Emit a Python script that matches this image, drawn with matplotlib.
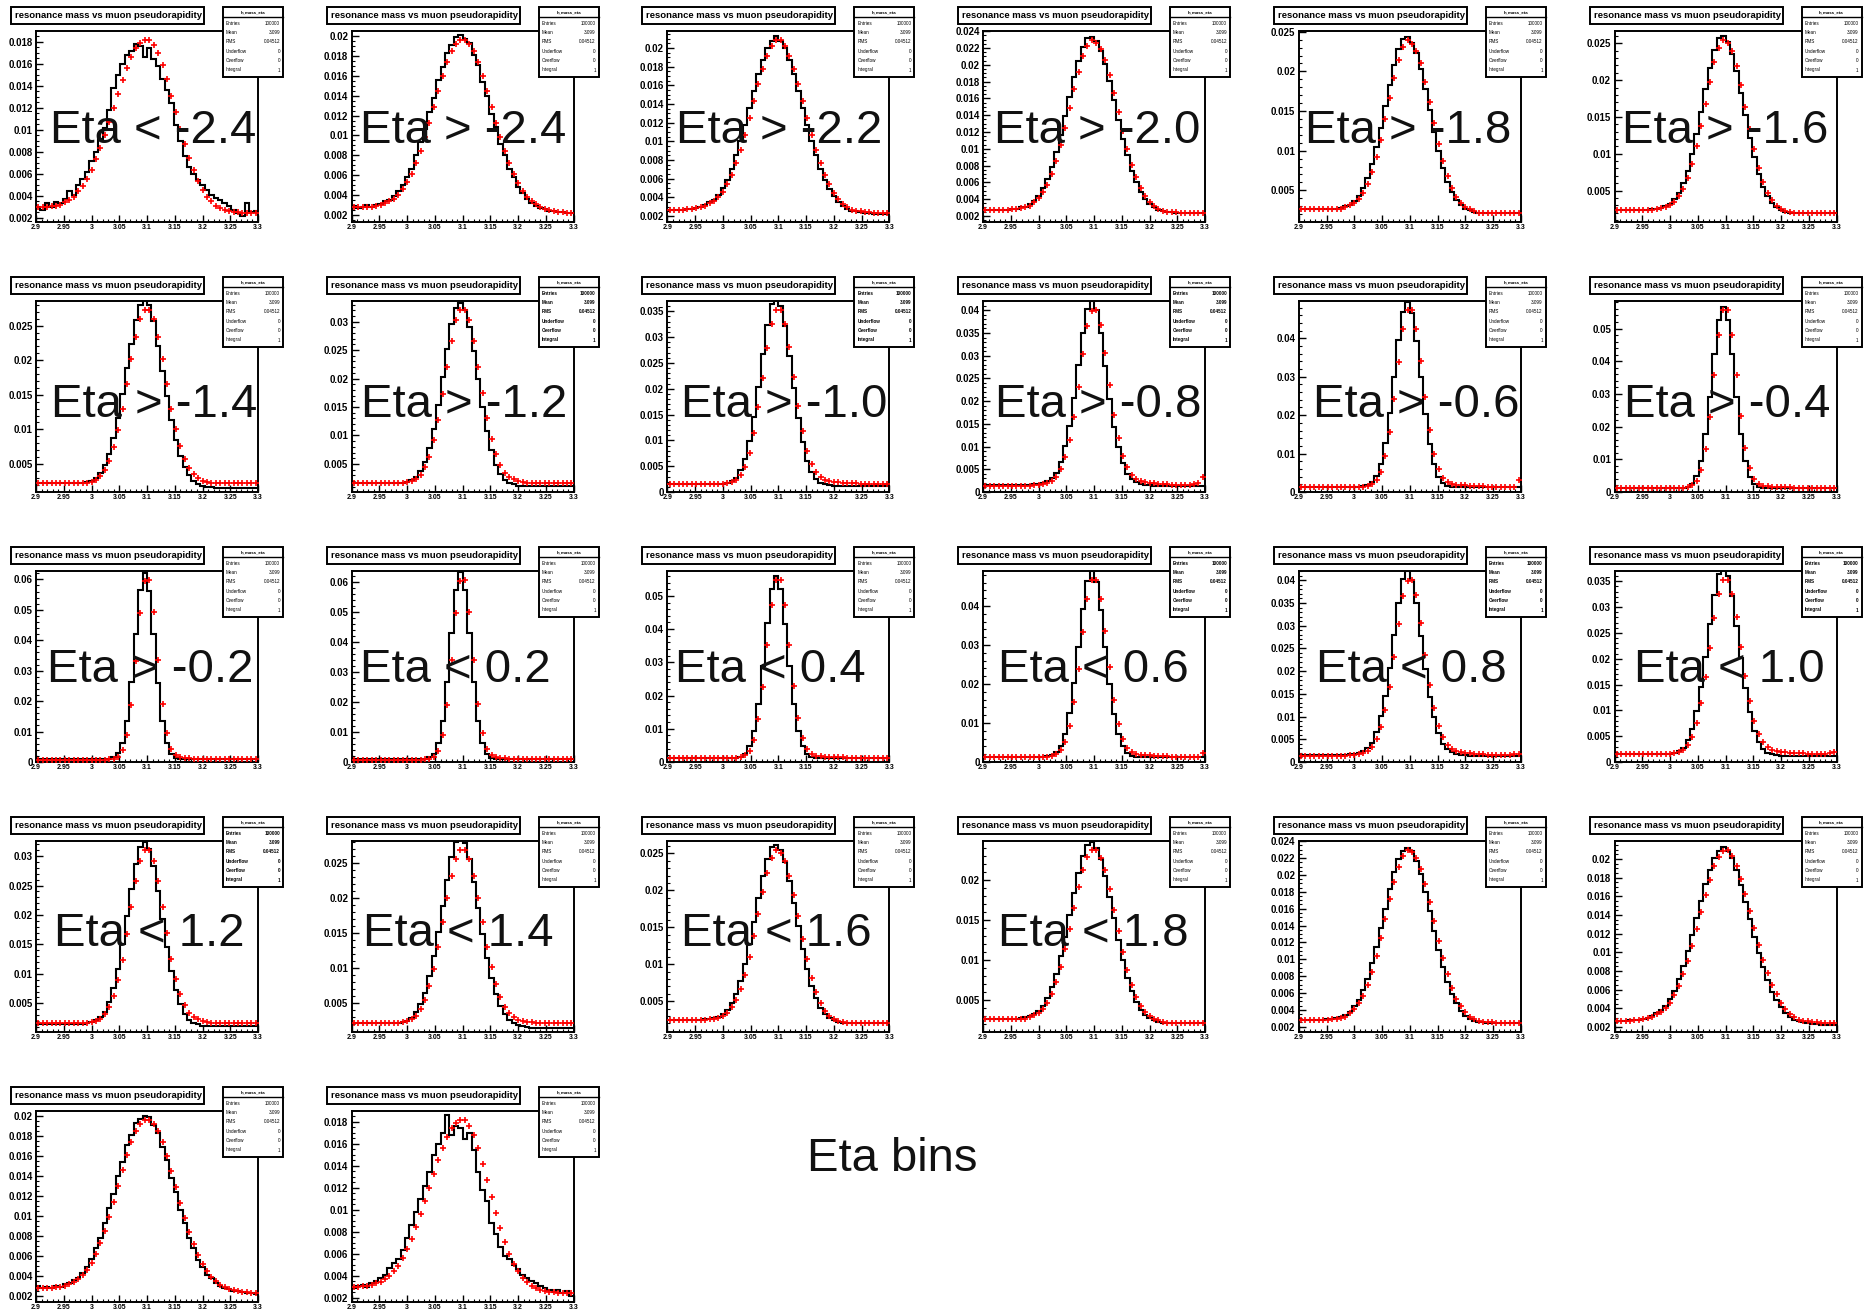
import numpy as np
import matplotlib
matplotlib.use('Agg')
import matplotlib.pyplot as plt
from matplotlib.patches import Rectangle
from matplotlib.lines import Line2D
from matplotlib.ticker import MultipleLocator, AutoMinorLocator, FuncFormatter

plt.rcParams['font.family'] = ['Liberation Sans', 'DejaVu Sans']
plt.rcParams['font.weight'] = 'bold'

# mass window of every histogram (GeV)
mass_lo = 2.9
mass_hi = 3.3
unit = 1e-4   # bin contents below are in units of 1e-4

title_text = 'resonance mass vs muon pseudorapidity'
eta_labels = ['Eta < -2.4', 'Eta > -2.4', 'Eta > -2.2', 'Eta > -2.0', 'Eta > -1.8', 'Eta > -1.6',
              'Eta > -1.4', 'Eta > -1.2', 'Eta > -1.0', 'Eta > -0.8', 'Eta > -0.6', 'Eta > -0.4',
              'Eta > -0.2', 'Eta < 0.2', 'Eta < 0.4', 'Eta < 0.6', 'Eta < 0.8', 'Eta < 1.0',
              'Eta < 1.2', 'Eta < 1.4', 'Eta < 1.6', 'Eta < 1.8', '', '',
              '', '']
stat_names = ['Entries', 'Mean', 'RMS', 'Underflow', 'Overflow', 'Integral']
stat_values = ['100000', '3.099', '0.04512', '0', '0', '1']

# black histograms (data) and red crosses (reference), 50 bins each
black_01 = [30,27,33,30,34,33,37,44,41,50,55,62,72,80,92,102,118,138,150,160,168,172,178,176,166,174,164,158,146,136,124,104,90,76,66,60,54,50,45,41,38,36,33,31,27,24,22,33,25,26]
red_01 = [30,30,30,31,31,32,34,36,39,44,49,55,63,73,83,95,107,120,133,145,156,166,174,179,182,182,177,170,159,146,131,116,101,87,74,63,53,45,39,35,31,29,27,26,25,25,24,24,24,24]
black_02 = [29,27,28,30,28,30,31,34,35,39,44,50,58,66,80,93,106,124,138,156,169,183,191,199,201,197,193,181,171,154,140,122,108,91,80,66,58,48,42,36,32,29,27,26,24,24,23,23,22,22]
red_02 = [28,28,28,28,28,29,30,32,34,36,40,46,53,61,72,84,98,113,129,145,160,174,185,192,196,196,192,185,174,160,145,129,113,98,84,72,61,52,44,38,34,31,28,26,25,24,23,23,22,22]
black_03 = [27,27,27,27,28,28,29,30,32,35,37,43,50,59,71,85,100,118,136,154,172,187,200,208,213,208,200,187,172,154,136,118,100,85,71,59,49,42,35,31,28,26,25,24,23,23,22,22,22,22]
red_03 = [27,27,27,27,28,28,29,30,31,34,36,40,46,54,64,77,91,107,125,143,161,178,192,202,209,209,202,192,178,161,143,125,107,91,77,64,54,45,38,33,30,27,26,25,24,24,23,23,23,23]
black_04 = [27,27,27,27,27,27,28,28,30,31,34,38,44,53,64,78,96,116,139,162,185,205,221,232,233,228,217,201,181,158,134,112,92,74,60,49,40,34,30,27,26,24,24,23,23,23,23,23,23,23]
red_04 = [27,27,27,27,27,27,28,28,29,30,32,36,41,48,57,70,85,104,125,148,171,192,210,223,230,226,219,206,188,167,144,121,100,81,66,53,44,37,32,28,26,25,24,24,23,23,23,23,23,23]
black_05 = [26,26,26,26,26,26,26,26,27,28,30,32,37,43,53,66,83,105,129,156,183,208,228,241,244,236,223,203,178,151,124,100,78,61,48,38,32,27,25,23,22,21,21,21,21,21,21,21,21,21]
red_05 = [26,26,26,26,26,26,26,26,27,27,29,31,34,39,47,58,73,92,114,140,166,192,215,231,240,235,226,210,187,161,135,109,87,68,53,42,34,29,26,24,22,22,21,21,21,21,21,21,21,21]
black_06 = [24,24,24,24,24,24,24,24,25,25,26,29,32,38,47,60,77,100,127,157,188,217,241,257,260,252,236,212,183,152,122,95,72,55,42,33,27,24,21,20,20,19,19,19,19,19,19,19,19,19]
red_06 = [24,24,24,24,24,24,24,24,24,25,26,27,30,34,42,52,67,86,110,138,168,198,224,244,255,250,239,219,193,164,133,106,81,62,47,37,29,25,22,21,20,19,19,19,19,19,19,19,19,19]
black_07 = [22,22,22,22,22,22,22,22,22,22,23,24,26,30,37,48,65,88,117,151,188,224,258,280,288,280,257,221,185,148,114,85,62,45,34,26,21,18,17,16,15,15,15,15,15,15,15,15,15,15]
red_07 = [22,22,22,22,22,22,22,22,22,22,22,23,24,27,32,41,54,74,99,130,166,202,234,260,273,272,259,233,201,165,129,100,76,57,44,35,30,26,24,23,23,23,23,23,23,23,23,23,23,23]
black_08 = [17,17,17,17,17,17,17,17,17,17,17,17,19,22,27,37,53,78,112,154,203,252,295,324,333,320,291,248,199,150,108,74,49,32,22,17,14,12,11,11,11,11,11,11,11,11,11,11,11,11]
red_08 = [16,16,16,16,16,16,16,16,16,16,16,17,18,20,24,31,44,63,92,128,173,221,266,302,321,321,302,266,221,174,130,94,67,48,35,27,23,20,19,17,17,16,16,16,16,16,16,16,16,16]
black_09 = [15,15,15,15,15,15,15,15,15,15,15,15,16,18,21,28,42,64,99,146,204,267,324,364,377,361,321,264,201,143,96,61,39,25,18,15,13,12,12,12,12,12,12,12,12,12,12,12,12,12]
red_09 = [15,15,15,15,15,15,15,15,15,15,15,15,16,17,19,24,33,49,76,114,164,221,278,325,352,353,326,280,223,167,118,80,55,39,30,24,22,20,19,18,18,17,17,16,16,16,16,16,16,16]
black_10 = [15,15,15,15,15,15,15,15,15,15,16,17,18,20,24,30,42,65,101,145,207,280,351,402,420,400,349,278,205,143,99,63,40,28,22,18,16,15,14,13,13,13,13,13,13,13,13,13,13,13]
red_10 = [14,14,14,14,14,14,14,14,14,14,14,15,16,18,20,25,34,50,77,115,166,232,304,365,399,401,367,306,236,170,118,80,54,38,29,24,21,20,19,18,17,17,16,16,16,16,16,17,20,34]
black_11 = [14,14,14,14,14,14,14,14,14,14,14,14,14,14,15,18,26,42,74,127,205,300,396,469,495,467,394,298,203,125,72,40,24,16,13,12,12,12,12,12,12,12,12,12,12,12,12,12,12,12]
red_11 = [13,13,13,13,13,13,13,13,13,13,13,13,13,13,14,16,20,31,53,94,157,243,338,423,473,474,424,340,246,161,99,59,37,26,20,19,17,17,16,16,15,15,14,14,14,14,14,14,14,30]
black_12 = [12,12,12,12,12,12,12,12,12,12,12,12,12,12,12,13,16,25,48,95,177,292,422,527,567,526,421,291,176,94,47,24,15,12,11,11,11,11,11,11,11,11,11,11,11,11,11,11,11,11]
red_12 = [12,12,12,12,12,12,12,12,12,12,12,12,12,12,12,13,14,20,34,68,131,230,357,480,556,557,481,359,233,135,72,39,25,19,17,16,15,15,14,14,13,13,13,13,13,13,13,13,13,13]
black_13 = [10,10,10,10,10,10,10,10,10,10,10,10,10,10,10,10,11,15,28,62,136,262,422,564,622,563,421,261,135,61,27,14,10,9,9,9,9,9,9,9,9,9,9,9,9,9,9,9,9,9]
red_13 = [8,8,8,8,8,8,8,8,8,8,8,8,8,8,8,8,9,10,17,38,89,187,333,490,596,598,492,336,191,94,43,22,15,12,12,11,11,10,10,10,10,10,10,10,10,10,10,10,10,10]
black_14 = [10,10,10,10,10,10,10,10,10,10,10,10,10,10,10,10,11,15,28,63,138,266,429,573,632,572,428,265,137,62,27,14,10,9,9,9,9,9,9,9,9,9,9,9,9,9,9,9,9,9]
red_14 = [8,8,8,8,8,8,8,8,8,8,8,8,8,8,8,8,9,10,17,38,90,190,338,497,604,606,499,341,194,95,43,22,15,12,12,11,11,10,10,10,10,10,10,10,10,10,10,10,10,10]
black_15 = [12,12,12,12,12,12,12,12,12,12,12,12,12,12,12,13,16,25,48,94,175,289,417,521,561,520,416,288,174,93,47,24,15,12,11,11,11,11,11,11,11,11,11,11,11,11,11,11,11,11]
red_15 = [12,12,12,12,12,12,12,12,12,12,12,12,12,12,12,13,14,20,34,67,129,226,351,472,547,548,473,353,229,133,71,39,25,19,17,16,15,15,14,14,13,13,13,13,13,13,13,13,13,13]
black_16 = [14,14,14,14,14,14,14,14,14,14,14,14,14,14,15,18,26,42,73,125,202,296,391,463,490,462,390,295,201,124,71,40,24,16,13,12,12,12,12,12,12,12,12,12,12,12,12,12,12,12]
red_16 = [13,13,13,13,13,13,13,13,13,13,13,13,13,13,14,16,20,30,52,92,154,239,333,417,466,467,418,336,243,159,98,58,36,26,20,19,17,17,16,16,15,15,14,14,14,14,14,14,14,24]
black_17 = [15,15,15,15,15,15,15,15,15,15,16,17,18,20,24,30,42,65,101,145,207,280,351,402,420,400,349,278,205,143,99,63,40,28,22,18,16,15,14,13,13,13,13,13,13,13,13,13,13,13]
red_17 = [14,14,14,14,14,14,14,14,14,14,14,15,16,18,20,25,34,50,77,115,166,232,304,365,399,401,367,306,236,170,118,80,54,38,29,24,21,20,19,18,17,17,16,16,16,16,16,16,17,18]
black_18 = [15,15,15,15,15,15,15,15,15,15,15,15,16,18,21,28,42,64,99,146,204,267,324,364,375,361,321,264,201,143,96,61,39,25,18,15,13,12,12,12,12,12,12,12,12,12,12,12,12,12]
red_18 = [15,15,15,15,15,15,15,15,15,15,15,15,16,17,19,24,33,49,76,114,164,221,278,325,352,353,326,280,223,167,118,80,55,39,30,24,22,20,19,18,18,17,17,16,16,16,16,16,17,19]
black_19 = [15,15,15,15,15,15,15,15,15,15,15,16,18,21,26,36,52,76,109,150,198,245,287,315,324,312,283,241,194,146,105,72,48,31,22,17,14,12,11,11,11,11,11,11,11,11,11,11,11,11]
red_19 = [16,16,16,16,16,16,16,16,16,16,16,17,18,20,24,31,43,62,89,124,168,214,258,292,311,311,292,258,214,169,126,91,65,47,34,27,23,20,19,17,17,16,16,16,16,16,16,16,16,16]
black_20 = [21,21,21,21,21,21,21,21,21,21,22,23,25,29,37,48,65,88,117,151,188,225,258,280,287,279,256,223,186,149,115,86,63,46,34,26,21,18,17,16,15,15,15,15,15,15,15,15,15,15]
red_20 = [21,21,21,21,21,21,21,21,21,21,22,23,24,27,32,41,54,74,99,130,165,200,231,256,269,268,256,231,200,165,130,101,77,58,45,36,30,26,24,23,23,22,22,22,22,22,22,22,22,22]
black_21 = [25,25,25,25,25,25,25,25,26,26,27,29,32,38,47,60,77,100,127,157,189,219,243,259,262,255,238,213,183,152,121,94,71,54,41,32,27,24,22,21,20,20,20,20,20,20,20,20,20,20]
red_21 = [25,25,25,25,25,25,25,25,25,26,26,27,30,34,42,52,67,86,110,138,168,198,224,244,255,251,240,220,194,165,134,107,82,62,47,37,30,26,23,22,21,20,20,20,20,20,20,20,20,20]
black_22 = [27,27,27,27,27,27,27,27,28,29,30,33,37,43,53,66,83,105,129,156,184,209,230,244,248,240,226,205,179,152,125,100,78,61,48,38,32,28,25,23,22,21,21,21,21,21,21,21,21,21]
red_22 = [26,26,26,26,26,26,26,26,27,27,29,31,34,39,47,58,73,92,114,139,165,191,213,229,238,237,228,212,189,163,136,110,88,69,54,43,35,30,27,25,23,22,21,21,21,21,21,21,21,21]
black_23 = [28,28,28,28,28,28,29,29,30,32,34,38,44,52,63,77,95,115,137,160,183,203,219,229,232,228,217,201,180,157,133,111,91,73,59,48,39,33,29,27,26,25,24,24,24,24,24,24,24,24]
red_23 = [28,28,28,28,28,28,28,29,29,30,32,36,41,48,57,70,85,104,125,148,171,192,210,223,230,227,220,207,189,168,145,122,101,82,66,53,44,37,32,29,27,26,25,25,24,24,24,24,24,24]
black_24 = [27,27,27,28,28,28,29,30,32,35,38,43,50,59,71,85,101,119,137,155,173,188,201,209,213,209,201,188,172,154,136,117,99,84,70,58,49,42,35,31,28,26,25,24,23,23,22,22,22,22]
red_24 = [27,27,27,27,28,28,29,30,31,34,36,40,46,54,64,77,91,107,125,143,161,178,192,202,209,210,203,193,179,162,144,126,108,92,78,65,55,46,39,34,31,28,27,26,25,25,24,24,24,24]
black_25 = [30,28,29,28,30,29,32,33,36,38,43,49,57,68,78,93,108,122,140,154,171,181,193,197,200,199,191,183,169,156,138,124,106,93,78,68,56,49,41,38,33,30,28,27,25,25,24,23,23,22]
red_25 = [28,28,28,28,29,29,30,32,34,37,41,46,53,62,73,85,99,114,130,146,161,174,185,192,196,196,192,185,174,160,145,129,113,98,84,72,61,52,45,39,35,31,29,27,26,25,24,24,23,23]
black_26 = [29,31,32,30,33,35,38,41,47,52,55,63,74,86,98,110,122,134,150,160,170,186,168,176,174,164,170,154,134,118,108,88,78,66,58,55,50,46,41,38,35,33,31,29,27,25,27,24,26,22]
red_26 = [30,30,31,31,32,33,34,37,40,44,49,56,64,73,84,96,108,120,133,145,156,166,174,179,182,182,176,168,156,142,127,112,97,83,71,60,51,44,38,34,31,29,27,26,25,25,24,24,24,24]

black_all = [black_01, black_02, black_03, black_04, black_05, black_06, black_07, black_08,
             black_09, black_10, black_11, black_12, black_13, black_14, black_15, black_16,
             black_17, black_18, black_19, black_20, black_21, black_22, black_23, black_24,
             black_25, black_26]
red_all = [red_01, red_02, red_03, red_04, red_05, red_06, red_07, red_08,
           red_09, red_10, red_11, red_12, red_13, red_14, red_15, red_16,
           red_17, red_18, red_19, red_20, red_21, red_22, red_23, red_24,
           red_25, red_26]

# y tick spacing per pad
y_steps = [0.002, 0.002, 0.002, 0.002, 0.005, 0.005, 0.005, 0.005, 0.005, 0.005, 0.01, 0.01,
           0.01, 0.01, 0.01, 0.01, 0.005, 0.005, 0.005, 0.005, 0.005, 0.005, 0.002, 0.002,
           0.002, 0.002]
bold_stats = [7, 8, 9, 15, 16, 17, 18]

# layout in pixels of the 1867x1309 canvas
W, H = 1867, 1309
cell_w, cell_h = 315.7, 270
label_left = [50, 360, 676, 994, 1305, 1622,
              51, 361, 681, 995, 1313, 1624,
              47, 360, 675, 998, 1316, 1634,
              54, 363, 681, 998]
row_baseline = [143, 417, 682, 946]


def fx(x):
    return x / W


def fy(y):
    return 1 - y / H


def px_rect(x0, y0, x1, y1):
    return [fx(x0), fy(y1), (x1 - x0) / W, (y1 - y0) / H]


fig = plt.figure(figsize=(W / 100, H / 100), dpi=100)
fmt = FuncFormatter(lambda v, p: '%g' % round(v, 6))

for n in range(26):
    row, col = divmod(n, 6)
    cx = col * cell_w
    cy = row * cell_h
    ax = fig.add_axes(px_rect(cx + 36, cy + 31, cx + 258, cy + 222))

    blk = np.array(black_all[n]) * unit
    red = np.array(red_all[n]) * unit
    edges = np.linspace(mass_lo, mass_hi, len(blk) + 1)
    red_edges = np.linspace(mass_lo, mass_hi, len(red) + 1)
    centers = 0.5 * (red_edges[:-1] + red_edges[1:])

    ax.stairs(blk, edges, color='black', lw=1.5, baseline=None, zorder=2)
    ax.plot(centers, red, '+', color='red', ms=4.5, mew=1.2, zorder=3)

    rng = red.max() - red.min()
    ax.set_xlim(mass_lo, mass_hi)
    ax.set_ylim(max(0.0, red.min() - 0.05 * rng), red.max() + 0.05 * rng)

    ax.xaxis.set_major_locator(MultipleLocator(0.05))
    ax.xaxis.set_minor_locator(MultipleLocator(0.01))
    ax.yaxis.set_major_locator(MultipleLocator(y_steps[n]))
    ax.yaxis.set_minor_locator(AutoMinorLocator())
    ax.xaxis.set_major_formatter(fmt)
    ax.yaxis.set_major_formatter(fmt)
    ax.tick_params(which='both', direction='in', top=False, right=False, color='black')
    ax.tick_params(which='major', length=5, width=1)
    ax.tick_params(which='minor', length=2.5, width=0.8)
    ax.tick_params(axis='y', labelsize=7, pad=2.5)
    ax.tick_params(axis='x', labelsize=5, pad=1.5)
    for s in ax.spines.values():
        s.set_linewidth(1.4)

    # title box
    fig.add_artist(Rectangle((fx(cx + 11), fy(cy + 24)), 193 / W, 17 / H,
                             transform=fig.transFigure, fc='white', ec='black', lw=1.4))
    fig.text(fx(cx + 15), fy(cy + 15.5), title_text, fontsize=6.8, va='center', ha='left')

    # stats box
    fig.add_artist(Rectangle((fx(cx + 223), fy(cy + 77)), 60 / W, 70 / H,
                             transform=fig.transFigure, fc='white', ec='black', lw=1.4))
    fig.add_artist(Line2D([fx(cx + 223), fx(cx + 283)], [fy(cy + 17), fy(cy + 17)],
                          transform=fig.transFigure, color='black', lw=1.0))
    fig.text(fx(cx + 253), fy(cy + 12), 'h_mass_eta', fontsize=3.2, ha='center', va='center')
    sw = 'bold' if n in bold_stats else 'normal'
    for k, ry in enumerate([23.3, 32.3, 41.7, 51.7, 61, 70]):
        fig.text(fx(cx + 226), fy(cy + ry), stat_names[k], fontsize=3.3, ha='left',
                 va='center', fontweight=sw)
        fig.text(fx(cx + 280), fy(cy + ry), stat_values[k], fontsize=3.3, ha='right',
                 va='center', fontweight=sw)

    if eta_labels[n]:
        fig.text(fx(label_left[n]), fy(row_baseline[row]), eta_labels[n], fontsize=34,
                 ha='left', va='baseline', fontweight='normal', color='#111111')

fig.text(fx(807), fy(1171), 'Eta bins', fontsize=34, ha='left', va='baseline',
         fontweight='normal', color='#111111')

fig.savefig('out.png', dpi=100)
